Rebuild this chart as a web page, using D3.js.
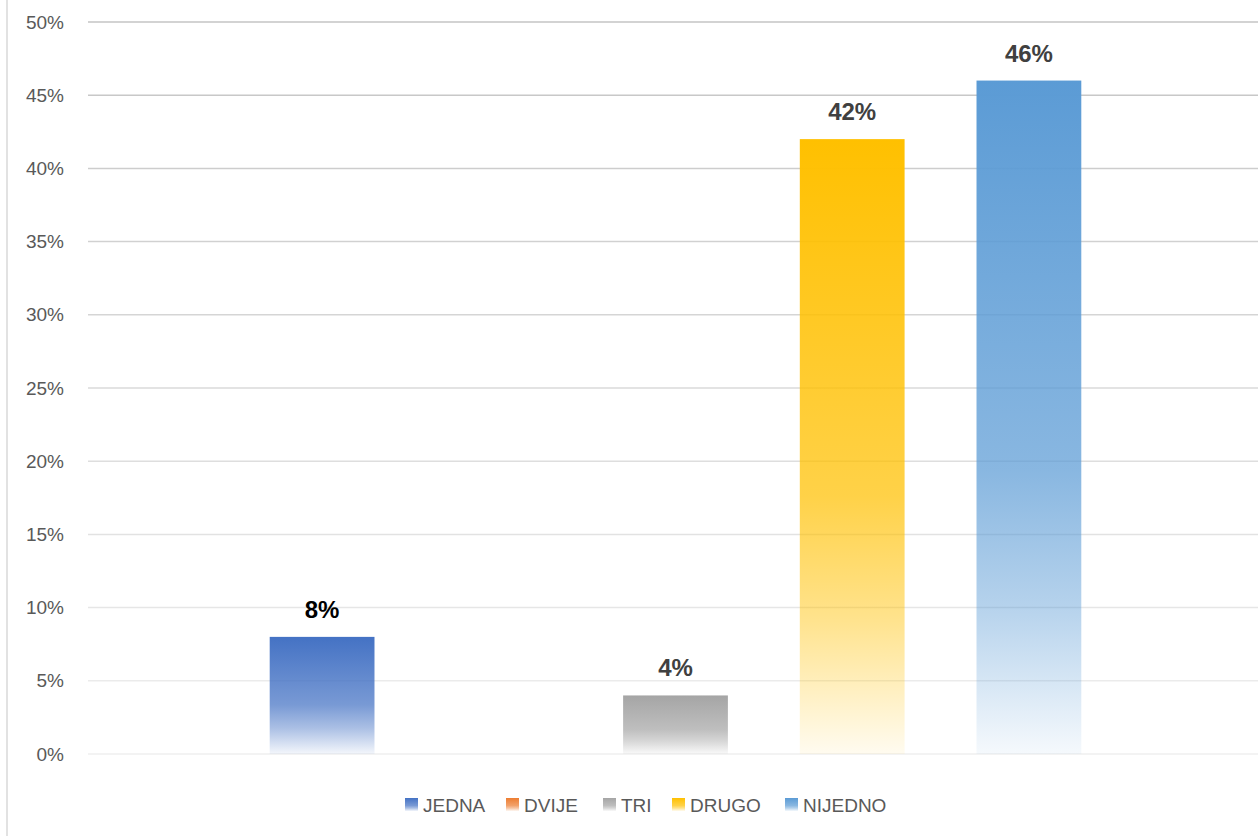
<!DOCTYPE html>
<html>
<head>
<meta charset="utf-8">
<script src="https://cdn.jsdelivr.net/npm/d3@7"></script>
<style>
  body { margin: 0; background: #fff; }
  svg { display: block; }
</style>
</head>
<body>
<svg id="chart" width="1258" height="836"></svg>
<script>
// data
const series = ['JEDNA', 'DVIJE', 'TRI', 'DRUGO', 'NIJEDNO'];
const values = [0.08, 0, 0.04, 0.42, 0.46];
const colors = ['#4472c4', '#ed7d31', '#a5a5a5', '#ffc000', '#5b9bd5'];
const yTicks = [0, 0.05, 0.10, 0.15, 0.20, 0.25, 0.30, 0.35, 0.40, 0.45, 0.50];

const svg = d3.select('#chart');
const width = 1258, height = 836;
const margin = {top: 22, left: 93, right: 0, bottom: 82};

const x = d3.scaleBand()
    .domain(series)
    .range([margin.left, width - margin.right])
    .paddingInner(0.407)
    .paddingOuter(1.0);

const y = d3.scaleLinear()
    .domain([0, 0.5])
    .range([height - margin.bottom, margin.top]);

// gradients, one per series
const defs = svg.append('defs');
colors.forEach((c, i) => {
    const g = defs.append('linearGradient')
        .attr('id', 'grad' + i)
        .attr('x1', 0).attr('y1', 0).attr('x2', 0).attr('y2', 1);
    g.append('stop').attr('offset', '0%').attr('stop-color', c).attr('stop-opacity', 1);
    g.append('stop').attr('offset', '58%').attr('stop-color', c).attr('stop-opacity', 0.72);
    g.append('stop').attr('offset', '78%').attr('stop-color', c).attr('stop-opacity', 0.45);
    g.append('stop').attr('offset', '100%').attr('stop-color', c).attr('stop-opacity', 0.06);
});

// left frame line
svg.append('line')
    .attr('x1', 7).attr('x2', 7)
    .attr('y1', 0).attr('y2', height)
    .attr('stroke', '#d9d9d9')
    .attr('stroke-width', 1.5);

// gridlines, fading towards the bottom
const gridColor = d3.scaleLinear().domain([0, 0.5]).range(['#efefef', '#c4c4c4']);
svg.append('g').classed('grid', true)
    .selectAll('line')
    .data(yTicks)
    .enter()
    .append('line')
    .attr('x1', 88)
    .attr('x2', width)
    .attr('y1', d => y(d))
    .attr('y2', d => y(d))
    .attr('stroke', d => gridColor(d))
    .attr('stroke-width', 1.5);

// y axis labels
svg.append('g').classed('yaxis', true)
    .selectAll('text')
    .data(yTicks)
    .enter()
    .append('text')
    .attr('x', 64)
    .attr('y', d => y(d))
    .attr('dy', '0.35em')
    .attr('text-anchor', 'end')
    .attr('font-family', 'Liberation Sans, Arial, sans-serif')
    .attr('font-size', 19)
    .attr('fill', '#595959')
    .text(d => d3.format('.0%')(d));

// bars
svg.append('g').classed('bars', true)
    .selectAll('rect')
    .data(series)
    .enter()
    .append('rect')
    .attr('x', d => x(d))
    .attr('y', (d, i) => y(values[i]))
    .attr('width', x.bandwidth())
    .attr('height', (d, i) => y(0) - y(values[i]))
    .attr('fill', (d, i) => `url(#grad${i})`);

// value labels (no label for the empty series)
svg.append('g').classed('labels', true)
    .selectAll('text')
    .data(series.filter((d, i) => values[i] > 0))
    .enter()
    .append('text')
    .attr('x', d => x(d) + x.bandwidth() / 2)
    .attr('y', d => y(values[series.indexOf(d)]) - 19)
    .attr('text-anchor', 'middle')
    .attr('font-family', 'Liberation Sans, Arial, sans-serif')
    .attr('font-weight', 'bold')
    .attr('font-size', 24)
    .attr('fill', d => d === 'JEDNA' ? '#000000' : '#404040')
    .text(d => d3.format('.0%')(values[series.indexOf(d)]));

// legend
const legendX = [405, 506, 603, 672, 785];
const legend = svg.append('g').classed('legend', true);
const items = legend.selectAll('g')
    .data(series)
    .enter()
    .append('g')
    .attr('transform', (d, i) => `translate(${legendX[i]},798)`);
items.append('rect')
    .attr('width', 13)
    .attr('height', 13)
    .attr('fill', (d, i) => `url(#grad${i})`);
items.append('text')
    .attr('x', 18)
    .attr('y', 7)
    .attr('dy', '0.35em')
    .attr('font-family', 'Liberation Sans, Arial, sans-serif')
    .attr('font-size', 19)
    .attr('fill', '#595959')
    .text(d => d);
</script>
</body>
</html>
